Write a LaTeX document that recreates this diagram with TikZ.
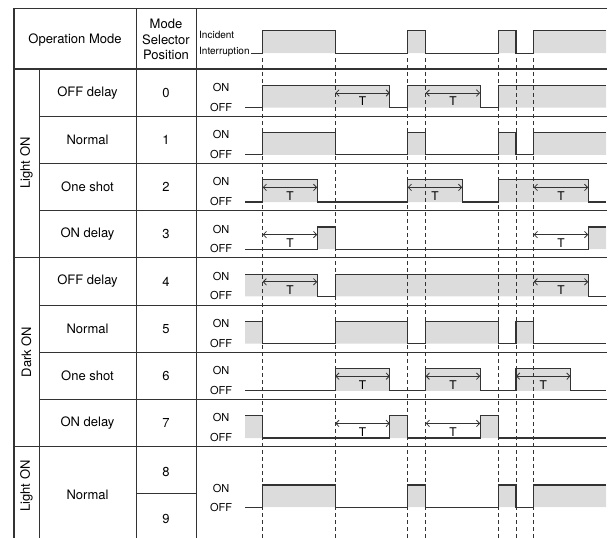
\documentclass[tikz,border=0pt]{standalone}
\usepackage{fontspec}
\setmainfont{TeX Gyre Heros}
\usetikzlibrary{arrows.meta}
\definecolor{sigGray}{HTML}{DCDCDC}
\definecolor{lineGray}{HTML}{333333}

\tikzset{
  tabline/.style={draw=lineGray, line width=0.9pt},
  tabframe/.style={draw=lineGray, line width=1.6pt},
  sigfill/.style={fill=sigGray},
  wave/.style={draw=lineGray, line width=1.1pt},
  timeline/.style={draw=lineGray, line width=0.8pt, dash pattern=on 3.5pt off 3.5pt},
  tarrow/.style={draw=lineGray, line width=0.8pt,
    {Straight Barb[length=3.2pt,width=6.5pt]}-{Straight Barb[length=3.2pt,width=6.5pt]}},
  txt/.style={font=\fontsize{13}{15.5}\selectfont, inner sep=0pt},
  onoff/.style={font=\fontsize{11}{13}\selectfont, inner sep=0pt},
  smalltxt/.style={font=\fontsize{10}{12}\selectfont, inner sep=0pt},
  tlabel/.style={font=\fontsize{12}{14}\selectfont, inner sep=0pt, midway, yshift=-8.5pt}
}

% T interval arrow, starts at #1
\newcommand{\tspan}[2]{\draw[tarrow] (#1,24) -- node[tlabel] (#2) {T} ++(\dT,0);}

\begin{document}
\begin{tikzpicture}[x=1pt,y=-1pt]
  \useasboundingbox (0,0) rectangle (608,538);

  % timing points
  \def\tS{245}\def\tA{262.7}\def\tB{335.3}\def\tC{407.7}\def\tD{425.7}
  \def\tE{498.3}\def\tF{516}\def\tG{533.7}\def\tZ{606}\def\dT{54.5}
  \def\hi{16.4}\def\lo{38.6}

  % table
  \draw[tabframe] (607,8.3) -- (14,8.3) -- (14,538);
  \draw[tabline] (136,8.3) -- (136,538) (196,8.3) -- (196,538) (39,69) -- (39,538);
  \draw[tabline, line width=1.3pt] (14,69) -- (607,69);
  \foreach \y in {116.2,163.4,210.6,305,352.2,399.4}
    \draw[tabline] (39,\y) -- (607,\y);
  \foreach \y in {257.8,446.6}
    \draw[tabline] (14,\y) -- (607,\y);
  \draw[tabline] (136,493.8) -- (196,493.8);

  % header
  \node[txt] (opmode) at (75,40) {Operation Mode};
  \node[txt, align=center] (selpos) at (166,39.5) {Mode\\Selector\\Position};
  \node[smalltxt, anchor=west] (incident) at (199,35) {Incident};
  \node[smalltxt, anchor=west] (interrupt) at (199,52) {Interruption};

  % rows
  \foreach \mode [count=\i from 0] in {OFF delay,Normal,One shot,ON delay,OFF delay,Normal,One shot,ON delay}{
    \pgfmathsetmacro\rt{69+47.2*\i}
    \node[txt] (mode\i) at (87.5,{\rt+23.6}) {\mode};
    \node[txt] (pos\i) at (166,{\rt+23.6}) {\i};
    \node[onoff] (on\i) at (221,{\rt+18.5}) {ON};
    \node[onoff] (off\i) at (221,{\rt+38}) {OFF};
  }
  \node[txt] (mode8) at (87.5,495) {Normal};
  \node[txt] (pos8) at (166,471.5) {8};
  \node[txt] (pos9) at (166,518.5) {9};
  \node[onoff] (on8) at (221,488) {ON};
  \node[onoff] (off8) at (221,507) {OFF};

  \node[txt, rotate=90] (grpA) at (26.5,163) {Light ON};
  \node[txt, rotate=90] (grpB) at (26.5,352) {Dark ON};
  \node[txt, rotate=90] (grpC) at (26.5,486) {Light ON};

  % incident interruption
  \begin{scope}[shift={(0,14.5)}]
    \fill[sigfill] (\tA,\hi) rectangle (\tB,\lo) (\tC,\hi) rectangle (\tD,\lo)
      (\tE,\hi) rectangle (\tF,\lo) (\tG,\hi) rectangle (\tZ,\lo);
    \draw[wave] (251,\lo) -| (\tA,\hi) -| (\tB,\lo) -| (\tC,\hi) -| (\tD,\lo)
      -| (\tE,\hi) -| (\tF,\lo) -| (\tG,\hi) -- (\tZ,\hi);
  \end{scope}

  % 0: OFF delay
  \begin{scope}[shift={(0,69)}]
    \fill[sigfill] (\tA,\hi) rectangle ({\tB+\dT},\lo) (\tC,\hi) rectangle ({\tD+\dT},\lo)
      (\tE,\hi) rectangle (\tZ,\lo);
    \draw[wave] (\tS,\lo) -| (\tA,\hi) -| ({\tB+\dT},\lo) -| (\tC,\hi) -| ({\tD+\dT},\lo)
      -| (\tE,\hi) -- (\tZ,\hi);
    \tspan{\tB}{t0a} \tspan{\tD}{t0b}
  \end{scope}

  % 1: Normal
  \begin{scope}[shift={(0,116.2)}]
    \fill[sigfill] (\tA,\hi) rectangle (\tB,\lo) (\tC,\hi) rectangle (\tD,\lo)
      (\tE,\hi) rectangle (\tF,\lo) (\tG,\hi) rectangle (\tZ,\lo);
    \draw[wave] (\tS,\lo) -| (\tA,\hi) -| (\tB,\lo) -| (\tC,\hi) -| (\tD,\lo)
      -| (\tE,\hi) -| (\tF,\lo) -| (\tG,\hi) -- (\tZ,\hi);
  \end{scope}

  % 2: One shot
  \begin{scope}[shift={(0,163.4)}]
    \fill[sigfill] (\tA,\hi) rectangle ({\tA+\dT},\lo) (\tC,\hi) rectangle ({\tC+\dT},\lo)
      (\tE,\hi) rectangle ({\tG+\dT},\lo);
    \draw[wave] (\tS,\lo) -| (\tA,\hi) -| ({\tA+\dT},\lo) -| (\tC,\hi) -| ({\tC+\dT},\lo)
      -| (\tE,\hi) -| ({\tG+\dT},\lo) -- (\tZ,\lo);
    \tspan{\tA}{t2a} \tspan{\tC}{t2b} \tspan{\tG}{t2c}
  \end{scope}

  % 3: ON delay
  \begin{scope}[shift={(0,210.6)}]
    \fill[sigfill] ({\tA+\dT},\hi) rectangle (\tB,\lo) ({\tG+\dT},\hi) rectangle (\tZ,\lo);
    \draw[wave] (\tS,\lo) -| ({\tA+\dT},\hi) -| (\tB,\lo) -| ({\tG+\dT},\hi) -- (\tZ,\hi);
    \tspan{\tA}{t3a} \tspan{\tG}{t3b}
  \end{scope}

  % 4: OFF delay (dark)
  \begin{scope}[shift={(0,257.8)}]
    \fill[sigfill] (\tS,\hi) rectangle ({\tA+\dT},\lo) (\tB,\hi) rectangle ({\tG+\dT},\lo);
    \draw[wave] (\tS,\hi) -| ({\tA+\dT},\lo) -| (\tB,\hi) -| ({\tG+\dT},\lo) -- (\tZ,\lo);
    \tspan{\tA}{t4a} \tspan{\tG}{t4b}
  \end{scope}

  % 5: Normal (dark)
  \begin{scope}[shift={(0,305)}]
    \fill[sigfill] (\tS,\hi) rectangle (\tA,\lo) (\tB,\hi) rectangle (\tC,\lo)
      (\tD,\hi) rectangle (\tE,\lo) (\tF,\hi) rectangle (\tG,\lo);
    \draw[wave] (\tS,\hi) -| (\tA,\lo) -| (\tB,\hi) -| (\tC,\lo) -| (\tD,\hi)
      -| (\tE,\lo) -| (\tF,\hi) -| (\tG,\lo) -- (\tZ,\lo);
  \end{scope}

  % 6: One shot (dark)
  \begin{scope}[shift={(0,352.2)}]
    \fill[sigfill] (\tB,\hi) rectangle ({\tB+\dT},\lo) (\tD,\hi) rectangle ({\tD+\dT},\lo)
      (\tF,\hi) rectangle ({\tF+\dT},\lo);
    \draw[wave] (\tS,\lo) -| (\tB,\hi) -| ({\tB+\dT},\lo) -| (\tD,\hi) -| ({\tD+\dT},\lo)
      -| (\tF,\hi) -| ({\tF+\dT},\lo) -- (\tZ,\lo);
    \tspan{\tB}{t6a} \tspan{\tD}{t6b} \tspan{\tF}{t6c}
  \end{scope}

  % 7: ON delay (dark)
  \begin{scope}[shift={(0,399.4)}]
    \fill[sigfill] (\tS,\hi) rectangle (\tA,\lo) ({\tB+\dT},\hi) rectangle (\tC,\lo)
      ({\tD+\dT},\hi) rectangle (\tE,\lo);
    \draw[wave] (\tS,\hi) -| (\tA,\lo) -| ({\tB+\dT},\hi) -| (\tC,\lo) -| ({\tD+\dT},\hi)
      -| (\tE,\lo) -- (\tZ,\lo);
    \tspan{\tB}{t7a} \tspan{\tD}{t7b}
  \end{scope}

  % 8/9: Normal
  \begin{scope}[shift={(0,468.6)}]
    \fill[sigfill] (\tA,\hi) rectangle (\tB,\lo) (\tC,\hi) rectangle (\tD,\lo)
      (\tE,\hi) rectangle (\tF,\lo) (\tG,\hi) rectangle (\tZ,\lo);
    \draw[wave] (\tS,\lo) -| (\tA,\hi) -| (\tB,\lo) -| (\tC,\hi) -| (\tD,\lo)
      -| (\tE,\hi) -| (\tF,\lo) -| (\tG,\hi) -- (\tZ,\hi);
  \end{scope}

  % dashed time marks
  \foreach \t in {\tA,\tB,\tC,\tD,\tE,\tF,\tG}
    \draw[timeline] (\t,58) -- (\t,538);
\end{tikzpicture}
\end{document}
